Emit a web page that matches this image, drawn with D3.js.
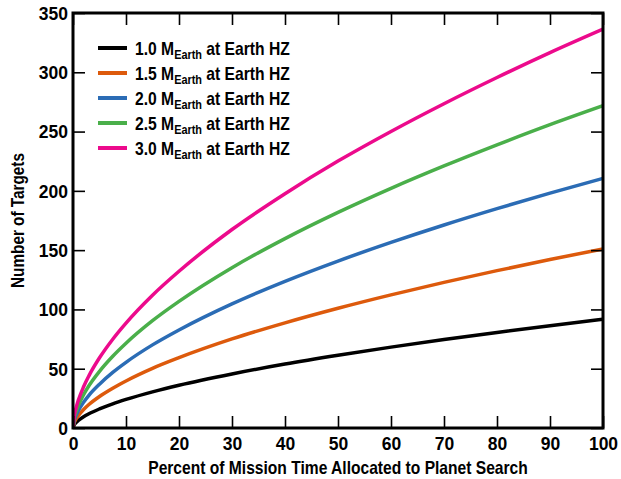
<!DOCTYPE html>
<html><head><meta charset="utf-8">
<script src="https://cdn.jsdelivr.net/npm/d3@7"></script>
<style>
html,body{margin:0;padding:0;background:#fff;}
svg text{font-family:"Liberation Sans",Arial,Helvetica,sans-serif;font-weight:bold;fill:#000;}
</style></head>
<body><svg id="chart" width="621" height="479"></svg>
<script>
const xValues = [0, 0.25, 0.5, 1, 2, 3, 5, 7.5, 10, 15, 20, 30, 40, 50, 60, 70, 80, 90, 100];
const mass10 = [0, 2.8, 4.2, 6.3, 9.5, 12.0, 16.1, 20.4, 24.1, 30.5, 36.1, 45.6, 53.9, 61.3, 68.2, 74.6, 80.6, 86.3, 91.7];
const mass15 = [0, 4.7, 7.0, 10.4, 15.6, 19.8, 26.6, 33.6, 39.7, 50.3, 59.3, 75.1, 88.7, 101.0, 112.3, 122.8, 132.7, 142.1, 151.0];
const mass20 = [0, 6.5, 9.7, 14.6, 21.8, 27.6, 37.0, 46.9, 55.4, 70.1, 82.7, 104.7, 123.7, 140.8, 156.5, 171.2, 185.0, 198.1, 210.5];
const mass25 = [0, 8.4, 12.6, 18.8, 28.1, 35.6, 47.8, 60.5, 71.5, 90.5, 106.8, 135.2, 159.7, 181.8, 202.1, 221.0, 238.8, 255.8, 271.8];
const mass30 = [0, 10.4, 15.6, 23.3, 34.8, 44.0, 59.2, 74.9, 88.5, 112.0, 132.2, 167.4, 197.6, 225.1, 250.1, 273.5, 295.6, 316.6, 336.4];
const seriesMass = ["1.0", "1.5", "2.0", "2.5", "3.0"];
const seriesColors = ["#000000", "#dd5a0c", "#2b6cb5", "#4aaf4a", "#ec0a8c"];
const xTicks = [0, 10, 20, 30, 40, 50, 60, 70, 80, 90, 100];
const yTicks = [0, 50, 100, 150, 200, 250, 300, 350];
const xTitle = "Percent of Mission Time Allocated to Planet Search";
const yTitle = "Number of Targets";

const seriesValues = [mass10, mass15, mass20, mass25, mass30];

const svg = d3.select("#chart");
const m = {left: 73, right: 603, top: 13, bottom: 428};
const x = d3.scaleLinear().domain([0, 100]).range([m.left, m.right]);
const y = d3.scaleLinear().domain([0, 350]).range([m.bottom, m.top]);
const tickLen = 12;

// condense a text element horizontally around an anchor point
function condense(sel, targetWidth, ax, ay, anchor) {
  const w = sel.node().getComputedTextLength();
  const s = targetWidth / w;
  sel.attr("x", 0).attr("y", 0)
    .attr("transform", `translate(${ax},${ay}) scale(${s},1)`)
    .attr("text-anchor", anchor);
}

// curves
const line = d3.line().x(d => x(d[0])).y(d => y(d[1])).curve(d3.curveMonotoneX);
svg.append("clipPath").attr("id","plotclip").append("rect")
  .attr("x", m.left).attr("y", m.top).attr("width", m.right - m.left).attr("height", m.bottom - m.top);
seriesValues.forEach((vals, i) => {
  svg.append("path")
    .datum(xValues.map((xv, j) => [xv, vals[j]]))
    .attr("clip-path","url(#plotclip)")
    .attr("fill","none").attr("stroke", seriesColors[i]).attr("stroke-width", 3.5)
    .attr("stroke-linecap","round")
    .attr("d", line);
});

// axes (ticks inside, mirrored)
const fontSize = 17.5;
const bottomAxis = svg.append("g").attr("transform", `translate(0,${m.bottom})`)
  .call(d3.axisBottom(x).tickValues(xTicks).tickSize(-tickLen).tickPadding(9));
const topAxis = svg.append("g").attr("transform", `translate(0,${m.top})`)
  .call(d3.axisTop(x).tickValues(xTicks).tickSize(-tickLen).tickFormat(""));
const leftAxis = svg.append("g").attr("transform", `translate(${m.left},0)`)
  .call(d3.axisLeft(y).tickValues(yTicks).tickSize(-tickLen).tickPadding(5));
const rightAxis = svg.append("g").attr("transform", `translate(${m.right},0)`)
  .call(d3.axisRight(y).tickValues(yTicks).tickSize(-tickLen).tickFormat(""));
[bottomAxis, topAxis, leftAxis, rightAxis].forEach(g => {
  g.attr("font-family", null).attr("font-size", null);
  g.select(".domain").remove();
  g.selectAll(".tick line").attr("stroke","#000").attr("stroke-width",1.6);
  g.selectAll(".tick text").attr("font-size", fontSize).attr("fill","#000");
});
bottomAxis.selectAll(".tick text").attr("dy","0.72em");
leftAxis.selectAll(".tick text").attr("dy","0.36em");

// frame
svg.append("rect").attr("x", m.left).attr("y", m.top)
  .attr("width", m.right - m.left).attr("height", m.bottom - m.top)
  .attr("fill","none").attr("stroke","#000").attr("stroke-width",3);

// titles
const xt = svg.append("text").attr("font-size", 18).text(xTitle);
condense(xt, 380, 338, 474, "middle");
const yt = svg.append("text").attr("font-size", 18).text(yTitle);
{
  const w = yt.node().getComputedTextLength();
  const s = 135 / w;
  yt.attr("text-anchor","middle")
    .attr("transform", `translate(24,${(m.top + m.bottom) / 2}) rotate(-90) scale(${s},1)`);
}

// legend
const legend = svg.append("g");
seriesMass.forEach((ms, i) => {
  const yy = 48 + i * 25;
  legend.append("line").attr("x1", 98).attr("x2", 127).attr("y1", yy).attr("y2", yy)
    .attr("stroke", seriesColors[i]).attr("stroke-width", 4);
  const t = legend.append("text").attr("font-size", 18);
  t.append("tspan").text(ms + " M");
  t.append("tspan").attr("font-size", 12.5).attr("dy", 4).text("Earth");
  t.append("tspan").attr("dy", -4).text(" at Earth HZ");
  condense(t, 155, 135, yy + 6.5, "start");
});
</script>
</body></html>
